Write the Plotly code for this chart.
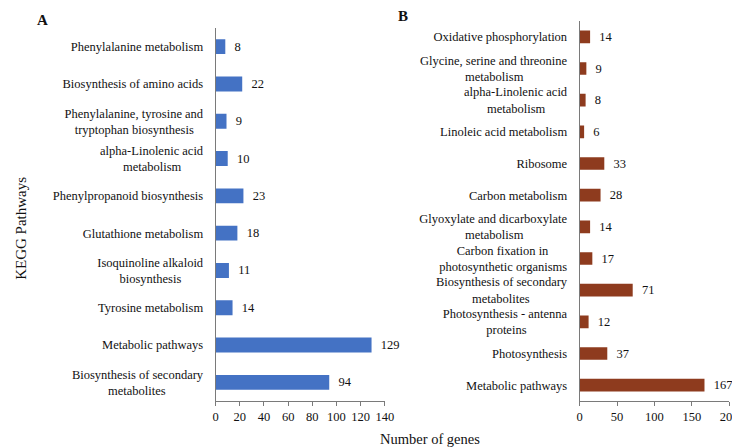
import plotly.graph_objects as go

# ---------------- data ----------------
a_pathways = [
    "Phenylalanine metabolism",
    "Biosynthesis of amino acids",
    "Phenylalanine, tyrosine and<br>tryptophan biosynthesis",
    "alpha-Linolenic acid<br>metabolism",
    "Phenylpropanoid biosynthesis",
    "Glutathione metabolism",
    "Isoquinoline alkaloid<br>biosynthesis",
    "Tyrosine metabolism",
    "Metabolic pathways",
    "Biosynthesis of secondary<br>metabolites",
]
a_genes = [8, 22, 9, 10, 23, 18, 11, 14, 129, 94]

b_pathways = [
    "Oxidative phosphorylation",
    "Glycine, serine and threonine<br>metabolism",
    "alpha-Linolenic acid<br>metabolism",
    "Linoleic acid metabolism",
    "Ribosome",
    "Carbon metabolism",
    "Glyoxylate and dicarboxylate<br>metabolism",
    "Carbon fixation in<br>photosynthetic organisms",
    "Biosynthesis of secondary<br>metabolites",
    "Photosynthesis - antenna<br>proteins",
    "Photosynthesis",
    "Metabolic pathways",
]
b_genes = [14, 9, 8, 6, 33, 28, 14, 17, 71, 12, 37, 167]

a_xticks = [0, 20, 40, 60, 80, 100, 120, 140]
b_xticks = [0, 50, 100, 150, 200]

# ---------------- helpers ----------------
NB = "\u00a0"
# approximate Times advance widths (per 1000 em)
TW = dict(zip("abcdefghijklmnopqrstuvwxyz",
              [444, 500, 444, 500, 444, 333, 500, 500, 278, 278, 500, 278, 778,
               500, 500, 500, 500, 333, 389, 278, 500, 500, 722, 500, 500, 444]))
TW.update({" ": 250, "-": 333, ",": 250, "A": 722, "B": 667, "C": 667, "G": 722,
           "I": 333, "L": 611, "M": 889, "O": 722, "P": 556, "R": 667, "T": 611})


def tw(s):
    return sum(TW.get(c, 500) for c in s)


def centre(label):
    """Right-anchored tick labels -> pad shorter lines so lines look centred."""
    lines = label.split("<br>")
    if len(lines) == 1:
        return label
    wmax = max(tw(l) for l in lines)
    out = []
    for l in lines:
        n = int(round((wmax - tw(l)) / 2 / 250))
        out.append(l + NB * n)
    return "<br>".join(out)


W, H = 740, 447
FONT = "Liberation Serif"
AXC = "#7a7a7a"
BLUE = "#4472C4"
BROWN = "#8E3B1E"

fig = go.Figure()
fig.add_trace(go.Bar(
    y=[centre(p) for p in a_pathways], x=a_genes, orientation="h",
    marker=dict(color=BLUE, line=dict(width=0)), width=0.4,
    text=[NB * 2 + str(v) for v in a_genes], textposition="outside",
    textfont=dict(family=FONT, size=12.5, color="#111"),
    constraintext="none", cliponaxis=False, xaxis="x", yaxis="y",
))
fig.add_trace(go.Bar(
    y=[centre(p) for p in b_pathways], x=b_genes, orientation="h",
    marker=dict(color=BROWN, line=dict(width=0)), width=0.4,
    text=[NB * 2 + str(v) for v in b_genes], textposition="outside",
    textfont=dict(family=FONT, size=12.5, color="#111"),
    constraintext="none", cliponaxis=False, xaxis="x2", yaxis="y2",
))

xcommon = dict(showline=True, linecolor=AXC, linewidth=1, ticks="outside",
               ticklen=4, tickcolor=AXC, showgrid=False, zeroline=False,
               tickfont=dict(family=FONT, size=12.5, color="#111"))
ycommon = dict(showline=True, linecolor=AXC, linewidth=1, ticks="",
               showgrid=False, zeroline=False, type="category",
               ticklabelstandoff=9,
               tickfont=dict(family=FONT, size=12.5, color="#111"))


def ann(text, x, y, size, **kw):
    return dict(text=text, x=x / W, y=1 - y / H, xref="paper", yref="paper",
                xanchor="center", yanchor="middle", showarrow=False,
                font=dict(family=FONT, size=size, color="#111"), **kw)


fig.update_layout(
    width=W, height=H, margin=dict(l=0, r=0, t=0, b=0),
    paper_bgcolor="white", plot_bgcolor="white", showlegend=False,
    font=dict(family=FONT, color="#111"),
    xaxis=dict(domain=[208 / W, 380 / W], range=[0, 140], tickvals=a_xticks,
               anchor="y", **xcommon),
    yaxis=dict(domain=[1 - 393 / H, 1 - 20 / H],
               range=[len(a_pathways) - 0.5, -0.5], anchor="x", **ycommon),
    xaxis2=dict(domain=[578 / W, 730 / W], range=[0, 200], tickvals=b_xticks,
                anchor="y2", **xcommon),
    yaxis2=dict(domain=[1 - 393 / H, 1 - 13 / H],
                range=[len(b_pathways) - 0.5, -0.5], anchor="x2", **ycommon),
    annotations=[
        ann("<b>A</b>", 32, 12, 15),
        ann("<b>B</b>", 398, 8, 15),
        ann("KEGG Pathways", 10, 220, 15, textangle=-90),
        ann("Number of genes", 426, 431, 14.5),
    ],
)

fig.write_html("out.html")
